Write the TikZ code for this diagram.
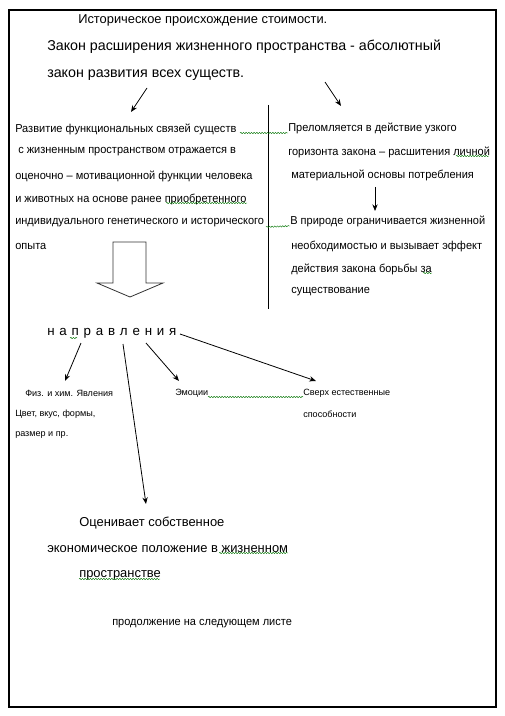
\documentclass[tikz,border=0pt]{standalone}
\usepackage{fontspec}
\setmainfont{Liberation Sans}
\newfontfamily\narrowfont[FakeStretch=0.96]{Liberation Sans}
\newcommand{\lettergap}{\hspace{3.6pt}}
\usetikzlibrary{arrows.meta,positioning,decorations.pathmorphing}

\begin{document}
\begin{tikzpicture}[
    x=0.75pt, y=-0.75pt,
    head/.style={anchor=west, inner sep=0pt, font=\fontsize{10.7}{12}\selectfont},
    body/.style={anchor=west, inner sep=0pt, font=\narrowfont\fontsize{8.6}{10}\selectfont},
    small/.style={anchor=west, inner sep=0pt, font=\fontsize{6.8}{8}\selectfont},
    arrow/.style={-{Stealth[length=5pt,width=4pt]}, line width=0.6pt},
    squiggle/.style={draw=green!45!black, line width=0.3pt, decorate,
      decoration={snake, amplitude=0.5pt, segment length=2pt}},
]
\useasboundingbox (0,0) rectangle (505,716);

% ── Page frame ──
\draw[line width=1.1pt] (9,10) rectangle (496,707);

% ── Heading ──
\node[head, font=\fontsize{9.65}{11}\selectfont] (title) at (78,20) {Историческое происхождение стоимости.};
\node[head] (law1) at (47,47) {Закон расширения  жизненного  пространства  - абсолютный};
\node[head] (law2) at (47,75) {закон развития  всех существ.};

% ── Left column ──
\node[body] (left1) at (15,129) {Развитие функциональных  связей существ};
\node[body] (left2) at (18,152) {с жизненным пространством отражается в};
\node[body] (left3) at (15,176) {оценочно – мотивационной функции человека};
\node[body] (left4) at (15,199) {и животных на основе ранее приобретенного};
\node[body] (left5) at (15,223) {индивидуального генетического и исторического};
\node[body] (left6) at (15,246) {опыта};

% ── Right column ──
\node[body] (right1) at (288,128) {Преломляется в действие узкого};
\node[body] (right2) at (288,152) {горизонта закона – расшитения личной};
\node[body] (right3) at (291,175) {материальной основы потребления};
\node[body] (right4) at (290,221) {В природе ограничивается жизненной};
\node[body] (right5) at (291,246) {необходимостью и вызывает эффект};
\node[body] (right6) at (291,269) {действия закона борьбы за};
\node[body] (right7) at (291,292) {существование};

\draw[line width=0.6pt] (268,105) -- (268,309);

% ── Directions ──
\node[head, font=\fontsize{10}{12}\selectfont] (napr) at (47,333)
  {н\lettergap а\lettergap п\lettergap р\lettergap а\lettergap в\lettergap л\lettergap е\lettergap н\lettergap и\lettergap я};
\node[small] (phys1) at (25,393) {Физ. и хим. Явления};
\node[small] (phys2) at (15,414) {Цвет, вкус, формы,};
\node[small] (phys3) at (15,435) {размер и пр.};
\node[small] (emo) at (175,393) {Эмоции};
\node[small] (super1) at (303,393) {Сверх естественные};
\node[small] (super2) at (303,414) {способности};

\node[head, font=\fontsize{9.7}{11}\selectfont] (eval1) at (79,523) {Оценивает собственное};
\node[head, font=\fontsize{9.7}{11}\selectfont] (eval2) at (47,549) {экономическое положение в жизненном};
\node[head, font=\fontsize{9.7}{11}\selectfont] (eval3) at (79,575) {пространстве};
\node[body] (cont) at (112,624) {продолжение на следующем листе};

% ── Arrows ──
\coordinate (lawL) at (147,88);
\coordinate (lawR) at (325,82);
\coordinate (leftTop) at (131,112);
\coordinate (rightTop) at (341,106);
\draw[arrow] (lawL) -- (leftTop);
\draw[arrow] (lawR) -- (rightTop);
\coordinate (r3bot) at (375,187);
\coordinate (r4top) at (375,211);
\draw[arrow] (r3bot) -- (r4top);

\draw[line width=0.6pt, draw=black!80] (113,242) -- (146,242) -- (146,283) -- (163,283)
  -- (130,297) -- (97,283) -- (113,283) -- cycle;

\coordinate (nA) at (81,343);
\coordinate (nB) at (123,344);
\coordinate (nC) at (146,343);
\coordinate (nD) at (180,334);
\coordinate (physTop) at (65,381);
\coordinate (evalTop) at (146,504);
\coordinate (emoTop) at (179,381);
\coordinate (superTop) at (316,381);
\draw[arrow] (nA) -- (physTop);
\draw[arrow] (nB) -- (evalTop);
\draw[arrow] (nC) -- (emoTop);
\draw[arrow] (nD) -- (superTop);

% ── Spelling marks ──
\draw[squiggle] (240,133) -- (288,133);
\draw[squiggle] (166,203) -- (247,203);
\draw[squiggle] (266,227) -- (290,226);
\draw[squiggle] (456,156) -- (489,156);
\draw[squiggle] (423,273) -- (432,273);
\draw[squiggle] (208,397) -- (303,397);
\draw[squiggle] (70,338) -- (77,338);
\draw[squiggle] (219,553) -- (288,553);
\draw[squiggle] (79,579) -- (160,579);

\end{tikzpicture}
\end{document}
